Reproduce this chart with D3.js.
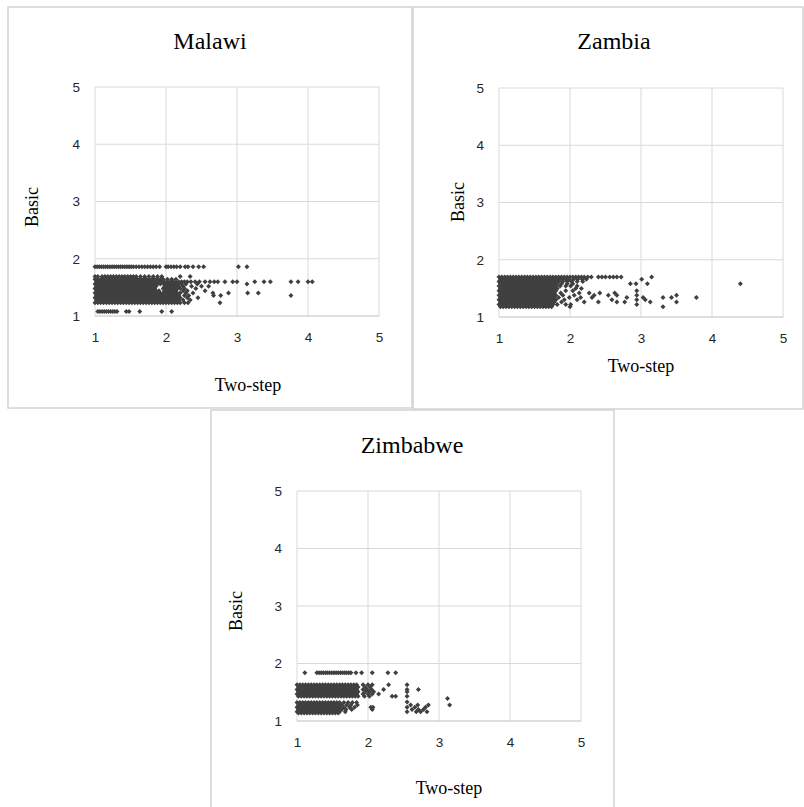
<!DOCTYPE html>
<html><head><meta charset="utf-8">
<script src="https://cdn.jsdelivr.net/npm/d3@7/dist/d3.min.js"></script>
<style>body{margin:0;background:#fff}svg{display:block}</style>
</head><body>
<svg id="c" width="804" height="807"></svg>
<script>
// ---------- DATA ----------
const panelTitles = ["Malawi", "Zambia", "Zimbabwe"];
const xAxisTitle = "Two-step";
const yAxisTitle = "Basic";
const xTicks = [1, 2, 3, 4, 5];
const yTicks = [1, 2, 3, 4, 5];

// dense cores (Two-step values repeated on many Basic levels)
const malawiCoreA = [1.00,1.04,1.08,1.12,1.16,1.20,1.24,1.28,1.32,1.36,1.40,1.44,1.48,1.52,1.56,1.60,1.64,1.68,1.72,1.76,1.80,1.84];
const malawiCoreB = [1.02,1.06,1.10,1.14,1.18,1.22,1.26,1.30,1.34,1.38,1.42,1.46,1.50,1.54,1.58,1.62,1.66,1.70,1.74,1.78,1.82];
const malawiBasic = [1.86,1.69,1.64,1.60,1.56,1.52,1.48,1.44,1.40,1.36,1.32,1.28,1.23,1.08];
const malawiTwoStep = [
  [1.00,1.03,1.06,1.09,1.12,1.15,1.18,1.21,1.24,1.27,1.30,1.33,1.36,1.39,1.42,1.45,1.48,1.51,1.54,1.58,1.62,1.66,1.70,1.74,1.78,1.82,1.86,1.91,2.00,2.03,2.07,2.11,2.15,2.20,2.27,2.31,2.38,2.46,2.53,3.02,3.14],
  [1.00,1.04,1.10,1.14,1.18,1.22,1.26,1.30,1.34,1.38,1.42,1.46,1.50,1.54,1.58,1.64,1.70,1.76,1.82,1.88,1.94,2.20,2.34],
  [...malawiCoreA,1.88,1.92,1.96,2.02,2.08,2.14],
  [...malawiCoreB,1.86,1.90,1.94,1.98,2.02,2.06,2.10,2.14,2.18,2.22,2.26,2.30,2.35,2.41,2.47,2.55,2.62,2.68,2.73,2.83,2.94,3.00,3.25,3.38,3.47,3.76,3.86,4.00,4.06],
  [...malawiCoreA,1.88,1.92,1.97,2.01,2.05,2.09,2.13,2.17,2.22,2.28,2.44,3.14],
  [...malawiCoreB,1.86,1.98,2.02,2.06,2.10,2.14,2.18,2.24,2.36,2.50,2.60],
  [...malawiCoreA,1.96,2.00,2.04,2.08,2.12,2.16,2.20,2.26,2.42],
  [...malawiCoreB,1.86,1.90,1.98,2.02,2.06,2.10,2.14,2.24,2.30,2.55],
  [...malawiCoreA,1.88,1.92,1.96,2.00,2.04,2.08,2.12,2.16,2.20,2.28,2.38,2.66,2.88,3.15,3.30],
  [...malawiCoreB,1.86,1.90,1.94,1.98,2.02,2.06,2.10,2.14,2.18,2.26,2.32,2.67,2.77,3.76],
  [...malawiCoreA,1.88,1.92,1.96,2.00,2.04,2.08,2.12,2.16,2.20,2.30,2.45],
  [...malawiCoreB,1.86,1.90,1.94,1.98,2.02,2.06,2.10,2.14,2.18,2.24,2.34],
  [...malawiCoreA,1.88,1.92,1.96,2.00,2.04,2.08,2.12,2.16,2.20,2.26,2.31,2.76],
  [1.04,1.07,1.10,1.13,1.16,1.19,1.22,1.25,1.28,1.31,1.44,1.48,1.63,1.94,2.08]
];

const zambiaCoreA = [1.00,1.04,1.08,1.12,1.16,1.20,1.24,1.28,1.32,1.36,1.40,1.44,1.48,1.52,1.56,1.60,1.64,1.68,1.72];
const zambiaCoreB = [1.02,1.06,1.10,1.14,1.18,1.22,1.26,1.30,1.34,1.38,1.42,1.46,1.50,1.54,1.58,1.62,1.66,1.70,1.74];
const zambiaBasic = [1.70,1.66,1.62,1.58,1.54,1.50,1.46,1.42,1.38,1.34,1.30,1.26,1.22,1.18];
const zambiaTwoStep = [
  [...zambiaCoreA,1.76,1.80,1.84,1.88,1.92,1.96,2.00,2.04,2.08,2.12,2.16,2.20,2.25,2.30,2.40,2.45,2.50,2.56,2.61,2.66,2.72,3.15],
  [...zambiaCoreB,1.78,1.82,1.86,1.90,1.94,1.99,2.05,2.11,2.17,2.23,3.01],
  [...zambiaCoreA,1.76,1.80,1.84,1.90,1.96,2.02,2.10,2.18],
  [...zambiaCoreB,1.78,1.82,1.88,1.96,2.04,2.85,2.93,3.09,4.40],
  [...zambiaCoreA,1.76,1.80,1.86,1.94,2.01,2.10],
  [...zambiaCoreB,1.78,1.82,2.08,2.16],
  [...zambiaCoreA,1.76,1.80,1.94,2.04,2.94],
  [...zambiaCoreB,1.78,1.87,2.13,2.27,2.42,2.63],
  [...zambiaCoreA,1.76,1.80,1.90,2.06,2.34,2.54,2.66,2.94,3.50],
  [...zambiaCoreB,1.78,1.84,1.99,2.15,2.31,2.80,3.03,3.31,3.43,3.78],
  [...zambiaCoreA,1.76,1.80,1.92,2.10,2.59,2.94,3.06],
  [...zambiaCoreB,1.78,1.88,2.20,2.40,2.66,2.77,3.13,3.50],
  [...zambiaCoreA,1.76,1.82,1.94,2.01,2.94],
  [...zambiaCoreB,2.00,3.31]
];

const zimbabweUpperA = [1.00,1.04,1.08,1.12,1.16,1.20,1.24,1.28,1.32,1.36,1.40,1.44,1.48,1.52,1.56,1.60,1.64,1.68,1.72,1.76,1.80,1.84];
const zimbabweUpperB = [1.02,1.06,1.10,1.14,1.18,1.22,1.26,1.30,1.34,1.38,1.42,1.46,1.50,1.54,1.58,1.62,1.66,1.70,1.74,1.78,1.82,1.86];
const zimbabweLowerA = [1.00,1.04,1.08,1.12,1.16,1.20,1.24,1.28,1.32,1.36,1.40,1.44,1.48,1.52,1.56,1.60];
const zimbabweLowerB = [1.02,1.06,1.10,1.14,1.18,1.22,1.26,1.30,1.34,1.38,1.42,1.46,1.50,1.54,1.58];
const zimbabweBasic = [1.84,1.63,1.59,1.55,1.51,1.47,1.43,1.39,1.33,1.32,1.28,1.24,1.20,1.16,1.14];
const zimbabweTwoStep = [
  [1.11,1.28,1.31,1.34,1.37,1.40,1.43,1.46,1.49,1.52,1.55,1.58,1.61,1.64,1.67,1.70,1.73,1.76,1.83,1.91,2.06,2.28,2.39],
  [...zimbabweUpperA,1.93,2.00,2.06,2.29,2.55],
  [...zimbabweUpperB,1.96,2.03],
  [...zimbabweUpperA,1.93,1.99,2.05,2.22,2.55,2.71],
  [...zimbabweUpperB,1.96,2.02,2.08,2.55],
  [...zimbabweUpperA,1.93,2.00,2.06,2.15],
  [...zimbabweUpperB,1.95,2.02,2.34,2.39,2.55],
  [3.12],
  [2.55],
  [...zimbabweLowerA,1.66,1.72,1.78,1.84],
  [...zimbabweLowerB,1.63,1.70,1.76,1.85,2.60,2.70,2.85,3.15],
  [...zimbabweLowerA,1.66,1.74,1.81,2.04,2.07,2.55,2.66,2.81],
  [...zimbabweLowerB,1.63,1.69,1.77,2.06,2.62,2.71,2.78],
  [...zimbabweLowerA,1.68,2.55,2.68,2.74,2.83],
  [...zimbabweLowerB]
];

// ---------- LAYOUT ----------
const panels = [
  {title: panelTitles[0], basic: malawiBasic, two: malawiTwoStep,
   box: {l: 8, t: 7, r: 412, b: 408}, plot: {l: 95, r: 379, b: 316, t: 87},
   titleX: 210, titleY: 49, yTitle: {x: 37.5, y: 207}, xTitle: {x: 248, y: 391}},
  {title: panelTitles[1], basic: zambiaBasic, two: zambiaTwoStep,
   box: {l: 413, t: 7, r: 803, b: 409}, plot: {l: 499, r: 783, b: 317, t: 88},
   titleX: 614, titleY: 49, yTitle: {x: 464, y: 202}, xTitle: {x: 641, y: 372}},
  {title: panelTitles[2], basic: zimbabweBasic, two: zimbabweTwoStep,
   box: {l: 211, t: 410, r: 614, b: 830}, plot: {l: 297, r: 581, b: 721, t: 491},
   titleX: 412, titleY: 453, yTitle: {x: 241.5, y: 611}, xTitle: {x: 449, y: 794}}
];

const svg = d3.select("#c");
const borderColor = "#d4d4d4";
const gridColor = "#d9d9d9";
const markColor = "#404040";
const diamond = "M0,-2.5L2.5,0L0,2.5L-2.5,0Z";

panels.forEach(p => {
  const g = svg.append("g");
  g.append("rect")
    .attr("x", p.box.l).attr("y", p.box.t)
    .attr("width", p.box.r - p.box.l).attr("height", p.box.b - p.box.t)
    .attr("fill", "none").attr("stroke", borderColor).attr("stroke-width", 1.5);

  const x = d3.scaleLinear().domain([1, 5]).range([p.plot.l, p.plot.r]);
  const y = d3.scaleLinear().domain([1, 5]).range([p.plot.b, p.plot.t]);

  // gridlines
  g.append("g").selectAll("line").data(xTicks).join("line")
    .attr("x1", d => x(d)).attr("x2", d => x(d))
    .attr("y1", y(5)).attr("y2", y(1))
    .attr("stroke", gridColor).attr("stroke-width", 1);
  g.append("g").selectAll("line").data(yTicks).join("line")
    .attr("x1", x(1)).attr("x2", x(5))
    .attr("y1", d => y(d)).attr("y2", d => y(d))
    .attr("stroke", d => d === 1 ? "#bfbfbf" : gridColor).attr("stroke-width", 1);

  // axes labels
  const ax = g.append("g").attr("transform", `translate(0,${p.plot.b})`)
    .call(d3.axisBottom(x).tickValues(xTicks).tickSize(0).tickPadding(16).tickFormat(d3.format("d")));
  const ay = g.append("g").attr("transform", `translate(${p.plot.l},0)`)
    .call(d3.axisLeft(y).tickValues(yTicks).tickSize(0).tickPadding(15).tickFormat(d3.format("d")));
  [ax, ay].forEach(a => {
    a.select(".domain").remove();
    a.selectAll("text").attr("font-family", "'Liberation Sans', Arial, sans-serif")
      .attr("font-size", 13.5).attr("fill", "#262626");
  });

  // points
  const pts = p.basic.flatMap((b, i) => p.two[i].map(t => [t, b]));
  g.append("g").selectAll("path").data(pts).join("path")
    .attr("d", diamond)
    .attr("transform", d => `translate(${x(d[0])},${y(d[1])})`)
    .attr("fill", markColor);

  // titles
  g.append("text").attr("x", p.titleX).attr("y", p.titleY)
    .attr("text-anchor", "middle")
    .attr("font-family", "'Liberation Serif', 'Times New Roman', serif")
    .attr("font-size", 24).attr("fill", "#000").text(p.title);
  g.append("text").attr("x", p.xTitle.x).attr("y", p.xTitle.y)
    .attr("text-anchor", "middle")
    .attr("font-family", "'Liberation Serif', 'Times New Roman', serif")
    .attr("font-size", 18).attr("fill", "#000").text(xAxisTitle);
  g.append("text")
    .attr("transform", `translate(${p.yTitle.x},${p.yTitle.y}) rotate(-90)`)
    .attr("text-anchor", "middle")
    .attr("font-family", "'Liberation Serif', 'Times New Roman', serif")
    .attr("font-size", 18).attr("fill", "#000").text(yAxisTitle);
});
</script>
</body></html>
